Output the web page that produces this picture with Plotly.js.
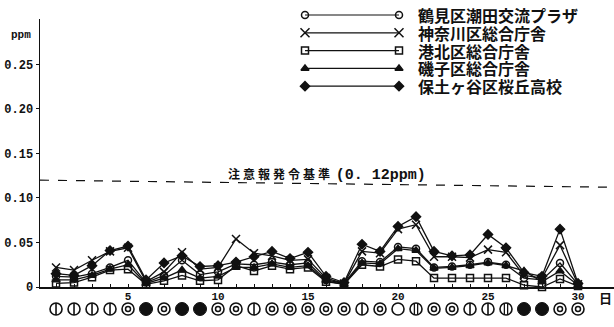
<!DOCTYPE html>
<html>
<head>
<meta charset="utf-8">
<script src="https://cdn.plot.ly/plotly-3.0.1.min.js"></script>
<style>
  html, body { margin: 0; padding: 0; background: #fff; }
  #chart { width: 614px; height: 327px; }
</style>
</head>
<body>
<div id="chart"></div>
<script>
// days of the month
const days = Array.from({length: 30}, (_, i) => i + 1);

// daily max ozone (ppm) per station
const tsurumi  = [0.012,0.011,0.015,0.022,0.030,0.005,0.013,0.030,0.014,0.017,0.026,0.025,0.028,0.025,0.027,0.008,0.004,0.029,0.028,0.045,0.043,0.022,0.023,0.025,0.028,0.025,0.010,0.008,0.027,0.003];
const kanagawa = [0.022,0.019,0.030,0.040,0.044,0.006,0.017,0.039,0.020,0.022,0.054,0.038,0.035,0.030,0.031,0.010,0.004,0.040,0.038,0.065,0.070,0.034,0.034,0.033,0.042,0.039,0.013,0.010,0.047,0.003];
const kohoku   = [0.004,0.005,0.011,0.019,0.020,0.003,0.007,0.013,0.007,0.008,0.024,0.018,0.024,0.020,0.022,0.006,0.003,0.025,0.023,0.031,0.029,0.010,0.010,0.010,0.010,0.010,0.002,0.000,0.009,0.001];
const isogo    = [0.008,0.008,0.013,0.020,0.025,0.004,0.010,0.019,0.010,0.012,0.022,0.022,0.026,0.022,0.024,0.007,0.003,0.027,0.026,0.043,0.041,0.021,0.022,0.024,0.027,0.024,0.018,0.006,0.018,0.002];
const hodogaya = [0.015,0.013,0.024,0.041,0.046,0.008,0.027,0.035,0.023,0.024,0.028,0.034,0.040,0.032,0.039,0.012,0.005,0.048,0.040,0.068,0.079,0.040,0.035,0.036,0.059,0.044,0.016,0.012,0.065,0.004];

const stationNames = ['鶴見区潮田交流プラザ', '神奈川区総合庁舎', '港北区総合庁舎', '磯子区総合庁舎', '保土ヶ谷区桜丘高校'];
const stationSymbols = ['circle-open', 'x-thin-open', 'square-open', 'triangle-up', 'diamond'];
const stationValues = [tsurumi, kanagawa, kohoku, isogo, hodogaya];

// weather per day: h = 晴, c = 曇, r = 雨, f = 快晴, hh = 晴(二重線)
const weather = ['h','h','h','h','c','r','c','r','r','c','c','h','c','c','c','c','c','h','c','f','hh','c','c','h','h','hh','r','r','c','c'];

const alertLevel = 0.12;
const yTickVals = [0, 0.05, 0.10, 0.15, 0.20, 0.25];
const yTickText = ['0', '0.05', '0.10', '0.15', '0.20', '0.25'];
const xLabelDays = [5, 10, 15, 20, 25, 30];

const W = 614, H = 327;
const plotL = 40, plotT = 19, plotB = 287;   // main plot box in pixels
const ink = '#111';
const mono = 'Liberation Mono, DejaVu Sans Mono, monospace';
const jp = 'Noto Sans CJK JP, sans-serif';

const traces = [];

stationValues.forEach((vals, i) => {
    const sym = stationSymbols[i];
    traces.push({
        x: days, y: vals,
        mode: 'lines+markers',
        line: {color: ink, width: 1.3},
        marker: {
            symbol: sym, size: sym === 'x-thin-open' ? 8 : 7, color: ink,
            line: {color: ink, width: 1.5}
        },
        cliponaxis: false, showlegend: false, hoverinfo: 'skip'
    });
});

// weather symbols under the axis, on their own strip axis (y3, pixels from bottom)
const weatherY = H - 309;
const symSize = 12;
const pick = (test) => days.filter((d, i) => test(weather[i]));
function symTrace(xs, symbol, size, width) {
    return {
        x: xs, y: xs.map(() => weatherY), xaxis: 'x', yaxis: 'y3',
        mode: 'markers', showlegend: false, hoverinfo: 'skip',
        marker: {symbol: symbol, size: size, color: ink, line: {color: ink, width: width}}
    };
}
traces.push(symTrace(pick(w => w !== 'r'), 'circle-open', symSize, 1.6));
traces.push(symTrace(pick(w => w === 'r'), 'circle', symSize + 1, 1));
traces.push(symTrace(pick(w => w === 'c'), 'circle-open', 5, 1.5));
traces.push(symTrace(pick(w => w === 'h'), 'line-ns', 8.5, 1.6));
traces.push(symTrace(pick(w => w === 'hh').map(d => d - 0.09), 'line-ns', 8.5, 1.3));
traces.push(symTrace(pick(w => w === 'hh').map(d => d + 0.09), 'line-ns', 8.5, 1.3));

// custom legend on a full-page pixel axis (x2/y2)
const legX0 = 305, legX1 = 399, legY0 = 15, legStep = 17.8, legTextX = 416;
stationNames.forEach((name, i) => {
    const yy = legY0 + i * legStep;
    const sym = stationSymbols[i];
    traces.push({
        x: [legX0, legX1], y: [yy, yy], xaxis: 'x2', yaxis: 'y2',
        mode: 'lines+markers',
        line: {color: ink, width: 1.2},
        marker: {symbol: sym, size: sym === 'x-thin-open' ? 9 : 7, color: ink, line: {color: ink, width: 1.5}},
        showlegend: false, hoverinfo: 'skip'
    });
});

const annotations = stationNames.map((name, i) => ({
    xref: 'x2', yref: 'y2', x: legTextX, y: legY0 + i * legStep,
    text: name, showarrow: false, xanchor: 'left', yanchor: 'middle',
    font: {family: jp, size: 16, color: ink, weight: 'bold'}
}));
annotations.push({
    xref: 'x2', yref: 'y2', x: 226, y: 174,
    text: "<span style='letter-spacing:3px'>注意報発令基準</span> <span style='font-family:Liberation Mono;font-size:15px;font-weight:bold'>(0. 12ppm)</span>",
    showarrow: false, xanchor: 'left', yanchor: 'middle',
    font: {family: jp, size: 12, color: ink, weight: 'bold'}
});
annotations.push({
    xref: 'x2', yref: 'y2', x: 9, y: 35,
    text: 'ppm', showarrow: false, xanchor: 'left', yanchor: 'middle',
    font: {family: mono, size: 11, color: ink, weight: 'bold'}
});
annotations.push({
    xref: 'x2', yref: 'y2', x: 605, y: 297,
    text: '日', showarrow: false, xanchor: 'center', yanchor: 'middle',
    font: {family: jp, size: 13, color: ink, weight: 'bold'}
});

const layout = {
    width: W, height: H,
    margin: {l: 0, r: 0, t: 0, b: 0},
    paper_bgcolor: '#fff', plot_bgcolor: 'rgba(0,0,0,0)',
    showlegend: false,
    xaxis: {
        domain: [plotL / W, 1], anchor: 'y',
        range: [0.11, 32], showgrid: false, zeroline: false,
        showline: true, linecolor: ink, linewidth: 1.5,
        tickmode: 'array', tickvals: days,
        ticktext: days.map(d => xLabelDays.includes(d) ? String(d) : ''),
        ticks: 'inside', ticklen: 3, tickcolor: ink, tickwidth: 1,
        ticklabelstandoff: -2,
        tickfont: {family: mono, size: 11, color: ink, weight: 'bold'}
    },
    yaxis: {
        domain: [(H - plotB) / H, (H - plotT) / H], anchor: 'x',
        range: [0, 0.301], showgrid: false, zeroline: false,
        showline: true, linecolor: ink, linewidth: 1.5,
        tickmode: 'array', tickvals: yTickVals, ticktext: yTickText,
        ticks: 'outside', ticklen: 3, tickcolor: ink,
        tickfont: {family: mono, size: 12, color: ink, weight: 'bold'}
    },
    yaxis3: {domain: [0, (H - plotB) / H], anchor: 'x', range: [0, H - plotB], visible: false},
    xaxis2: {domain: [0, 1], anchor: 'y2', range: [0, W], visible: false},
    yaxis2: {domain: [0, 1], anchor: 'x2', range: [H, 0], visible: false},
    shapes: [{
        // the scan is slightly skewed, so the dashed 0.12 line drops a little to the right
        type: 'line', xref: 'paper', yref: 'y', x0: plotL / W, x1: 1, y0: alertLevel, y1: alertLevel - 0.008,
        line: {color: ink, width: 1.2, dash: 'dash'}
    }],
    annotations: annotations
};

Plotly.newPlot('chart', traces, layout, {displayModeBar: false, staticPlot: true});
</script>
</body>
</html>
